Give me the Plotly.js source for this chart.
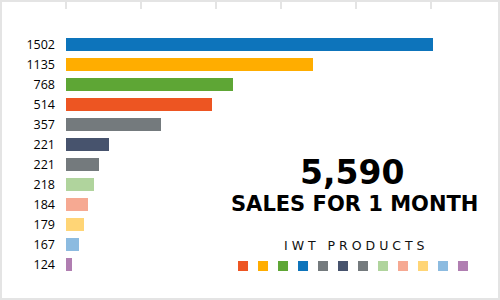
<!DOCTYPE html>
<html>
<head>
<meta charset="utf-8">
<script src="https://cdn.plot.ly/plotly-3.0.1.min.js"></script>
<style>
html,body{margin:0;padding:0;background:#fff;}
#chart{width:496px;height:296px;border:2px solid #e4e4e4;}
</style>
</head>
<body>
<div id="chart"></div>
<script>
// Category labels shown on the y axis (top to bottom)
const labels = ["1502","1135","768","514","357","221","221","218","184","179","167","124"];
// Bar lengths as drawn (axis units)
const barValues = [1468, 988, 667, 584, 380, 172, 132, 112, 88, 72, 52, 24];
const barColors = ["#0d74bb","#ffad00","#5ea635","#ed5522","#747a7d","#47536d","#747a7d","#b0d49d","#f6a992","#ffd576","#8cbbe0","#b07eb1"];
// Top axis tick positions
const tickPositions = [0, 300, 600, 860, 1160, 1460];
// Legend swatch colours (left to right)
const legendColors = ["#ed5522","#ffad00","#5ea635","#0d74bb","#747a7d","#47536d","#747a7d","#b0d49d","#f6a992","#ffd576","#8cbbe0","#b07eb1"];

const idx = labels.map((_, i) => i);

const bars = {
  type: 'bar', orientation: 'h',
  x: barValues, y: idx,
  marker: {color: barColors},
  width: 0.65,
  hoverinfo: 'none'
};
const swatches = {
  type: 'scatter', mode: 'markers',
  x: legendColors.map((_, i) => i), y: legendColors.map(() => 0),
  xaxis: 'x2', yaxis: 'y2',
  marker: {symbol: 'square', size: 10, color: legendColors, line: {width: 0}},
  hoverinfo: 'none'
};

const layout = {
  width: 496, height: 296,
  margin: {l: 64, r: 2, t: 8, b: 8, pad: 0},
  paper_bgcolor: '#fff', plot_bgcolor: '#fff',
  showlegend: false,
  bargap: 0,
  xaxis: {
    side: 'top', range: [0, 1720],
    tickvals: tickPositions, showticklabels: false,
    ticks: 'outside', ticklen: 8, tickwidth: 2, tickcolor: '#e4e4e4',
    showgrid: false, zeroline: false, showline: false, fixedrange: true
  },
  yaxis: {
    range: [12.275, -1.725],
    tickvals: idx, ticktext: labels,
    ticks: '', ticklabelstandoff: 10,
    tickfont: {family: 'Open Sans', size: 12.5, color: '#000'},
    showgrid: false, zeroline: false, showline: false, fixedrange: true
  },
  xaxis2: {domain: [0.3884, 0.9465], range: [-0.5, 11.5], anchor: 'y2', visible: false, fixedrange: true},
  yaxis2: {domain: [0.0557, 0.1157], range: [-1, 1], anchor: 'x2', visible: false, fixedrange: true},
  annotations: [
    {xref: 'paper', yref: 'paper', x: 0.665, y: 0.4196, xanchor: 'center', yanchor: 'middle',
     text: '<b>5,590</b>', showarrow: false, font: {family: 'DejaVu Sans', size: 33, color: '#000'}},
    {xref: 'paper', yref: 'paper', x: 0.671, y: 0.307, xanchor: 'center', yanchor: 'middle',
     text: '<b>SALES FOR 1 MONTH</b>', showarrow: false, font: {family: 'DejaVu Sans', size: 21, color: '#000'}},
    {xref: 'paper', yref: 'paper', x: 0.6698, y: 0.1607, xanchor: 'center', yanchor: 'middle',
     text: 'I W T   P R O D U C T S', showarrow: false, font: {family: 'DejaVu Sans', size: 12.5, color: '#111'}}
  ]
};

Plotly.newPlot('chart', [bars, swatches], layout, {displayModeBar: false, staticPlot: true});
</script>
</body>
</html>
